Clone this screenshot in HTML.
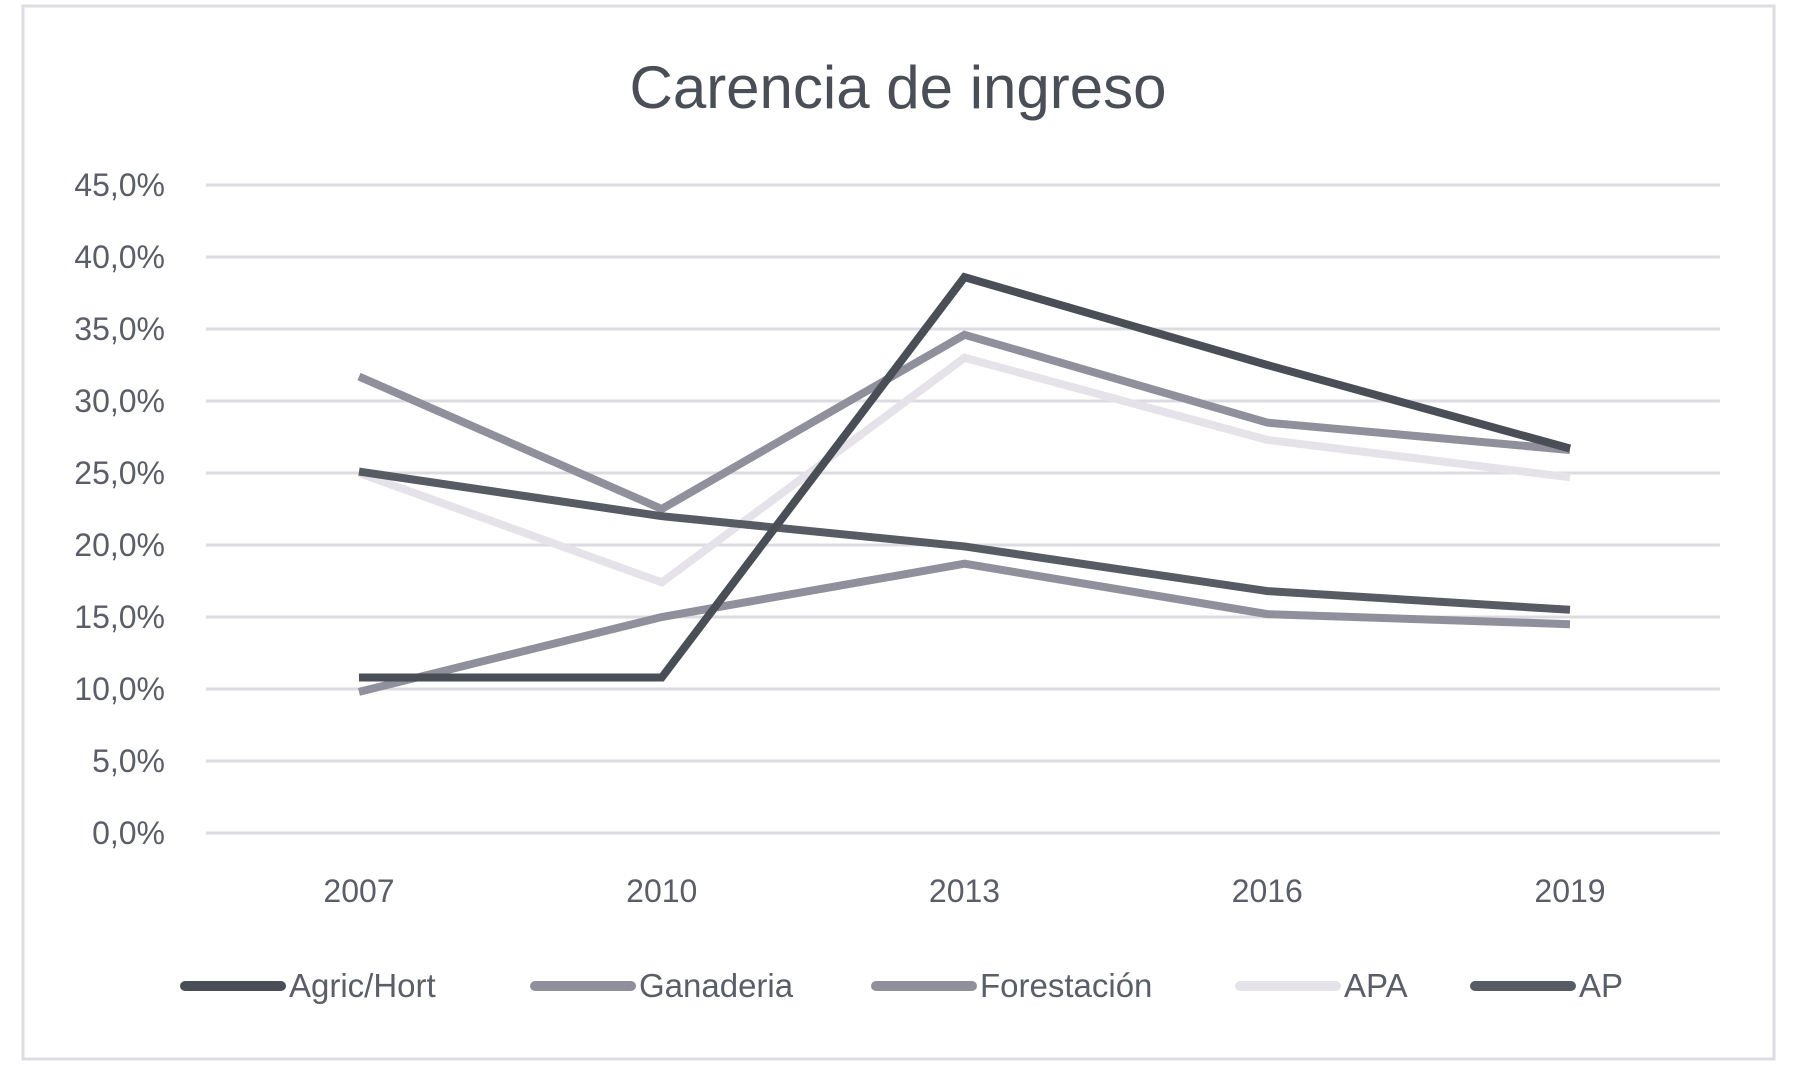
<!DOCTYPE html>
<html><head><meta charset="utf-8"><style>
body{margin:0;background:#fff;}
svg{display:block;font-family:"Liberation Sans",sans-serif;}
</style></head><body>
<svg id="chart" width="1814" height="1084" viewBox="0 0 1814 1084">
<rect x="23" y="6" width="1751" height="1053" fill="#fff" stroke="#dedbe3" stroke-width="3"/>
<text x="898" y="108" text-anchor="middle" font-size="60" fill="#4a4e57">Carencia de ingreso</text>
<g id="grid"></g><g id="series"></g><g id="legend"></g>
</svg>
<script>
const years=["2007","2010","2013","2016","2019"];
const yTicks=[0,5,10,15,20,25,30,35,40,45];
const agric=[10.8,10.8,38.6,32.5,26.7];
const ganaderia=[31.7,22.5,34.6,28.5,26.6];
const forestacion=[9.8,15.0,18.7,15.2,14.5];
const apa=[25.0,17.4,33.0,27.3,24.7];
const ap=[25.1,22.0,19.9,16.8,15.5];
const names=["Agric/Hort","Ganaderia","Forestación","APA","AP"];
const NS="http://www.w3.org/2000/svg";
const y=v=>833-v*(833-185)/45;
const x=i=>359+i*(1570-359)/(years.length-1);
const grid=document.getElementById('grid');
function mk(t,a,p){const e=document.createElementNS(NS,t);for(const k in a)e.setAttribute(k,a[k]);p.appendChild(e);return e;}
yTicks.forEach(t=>{
 const l=mk('line',{x1:206,x2:1720,y1:y(t),y2:y(t),stroke:'#dddbe2','stroke-width':3},grid);
 
 
 const tx=mk('text',{x:165,y:y(t)+11,'text-anchor':'end','font-size':32,fill:'#5a5e68'},grid);
 tx.textContent=t.toFixed(1).replace('.',',')+'%';
 
 
});
years.forEach((yr,i)=>{
 const tx=mk('text',{x:x(i),y:902,'text-anchor':'middle','font-size':32,fill:'#5a5e68'},grid);
 tx.textContent=yr;
 
 
});
const data=[agric,ganaderia,forestacion,apa,ap];
const colors=["#4a4e57","#8f909c","#8f909c","#e5e3e9","#565b64"];
const order=[3,1,2,4,0];
const sg=document.getElementById('series');
order.forEach(s=>{
 const pts=data[s].map((v,i)=>x(i)+','+y(v)).join(' ');
 const p=mk('polyline',{points:pts,fill:'none',stroke:colors[s],'stroke-width':8,'stroke-linejoin':'miter'},sg);
 
 
});
const lg=document.getElementById('legend');
const lx=[185,535,876,1240,1475];
names.forEach((n,i)=>{
 const g=mk('g',{},lg);
 
 
 mk('line',{x1:lx[i],x2:lx[i]+96,y1:986,y2:986,stroke:colors[i],'stroke-width':10,'stroke-linecap':'round'},g);
 const t=mk('text',{x:lx[i]+104,y:997,'font-size':33,fill:'#5a5e68'},g);
 t.textContent=n;
});
</script>
</body></html>
